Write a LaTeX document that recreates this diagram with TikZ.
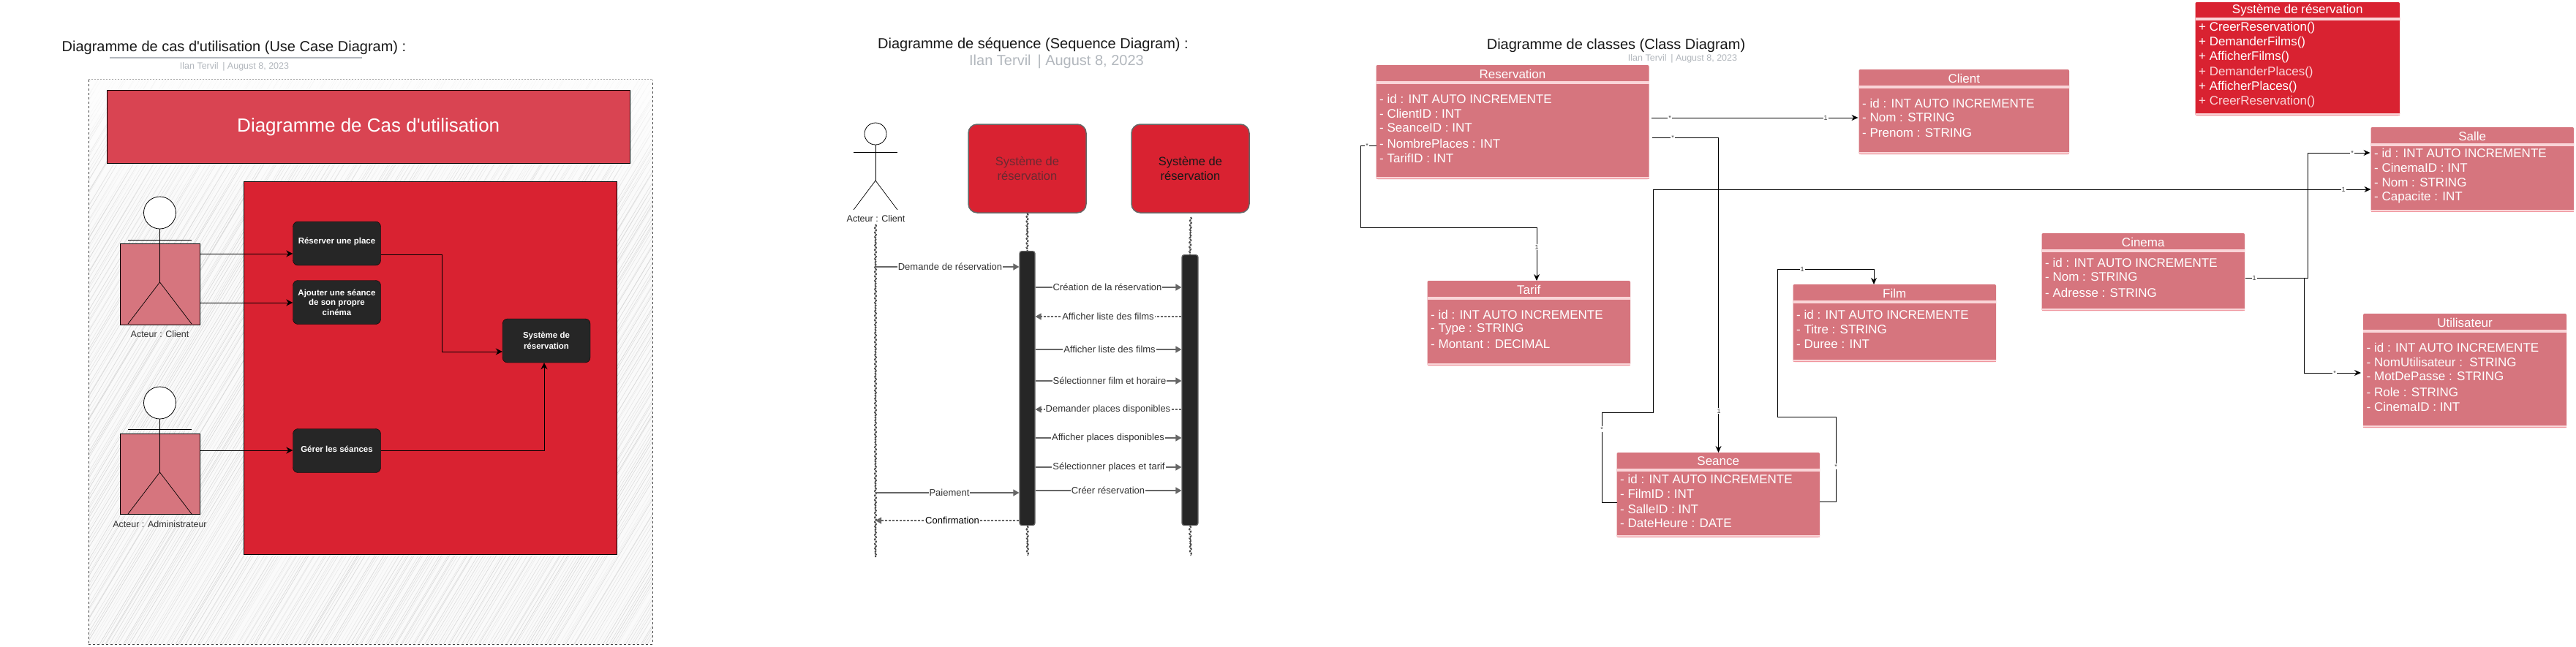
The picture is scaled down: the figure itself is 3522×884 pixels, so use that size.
\documentclass[tikz,border=0pt]{standalone}
\usepackage{fontspec}
\defaultfontfeatures[\rmfamily]{}
\setmainfont{Liberation Sans}
\usetikzlibrary{arrows.meta,decorations.pathmorphing}
\definecolor{redmain}{HTML}{D92231}
\definecolor{redhead}{HTML}{D94452}
\definecolor{pinkbox}{HTML}{D6757E}
\definecolor{bandpale}{HTML}{FAD5D8}
\definecolor{bandlow}{HTML}{F0959D}
\definecolor{darkbox}{HTML}{262626}
\definecolor{greytxt}{HTML}{B2B7BD}
\definecolor{msggrey}{HTML}{666666}
\definecolor{hatch}{HTML}{D4D4D4}
\definecolor{dimtxt}{HTML}{6B2A32}
\newcommand{\fs}[1]{\fontsize{#1pt}{#1pt}\selectfont}
\newcommand{\umlbox}[9]{%
  \pgfmathsetmacro{\bw}{#3-#2}\pgfmathsetmacro{\bh}{#7-#4}
  \node[umlshape, fill=#8, minimum width=\bw pt, minimum height=\bh pt] (#1) at (#2,#4) {};
  \fill[bandpale] (#2,#5-2) rectangle (#3,#5+2);
  \fill[bandpale] (#2,#6) rectangle (#3,#6+1.5);
  \fill[bandlow] (#2,#6+1.5) rectangle (#3,#7);
  \node[umltitle] (#1-t) at ({(#2+#3)/2},{#5-12}) {#9};
}
\newcommand{\umlrows}[3]{%
  \foreach \ry/\rt in {#3} { \node[umlrow] (#1-r\ry) at (#2,\ry) {\rt}; }
}
\newcommand{\msg}[7]{% name, from, to, y, cx, style, text
  \draw[#6] (#2 |- 0,#4) -- (#3 |- 0,#4);
  \node[msglabel] (#1) at (#5,#4) {#7};
}
\tikzset{
  umlshape/.style={anchor=north west, inner sep=0pt, outer sep=0pt, rounded corners=2pt, draw=none},
  umltitle/.style={text=white, font=\fs{17}, inner sep=0pt},
  umlrow/.style={text=white, font=\fs{17}, anchor=west, inner sep=0pt},
  conn/.style={draw=black, line width=0.9pt},
  connarrow/.style={conn, -{Stealth[length=9pt,width=8pt]}},
  card/.style={font=\fs{9}, text=black!75, fill=white, inner sep=1pt},
  ucbox/.style={fill=darkbox, draw=black, rounded corners=7pt, minimum width=120pt, minimum height=60pt, inner sep=0pt, text=white, font=\bfseries\fs{11.5}, align=center},
  ucarrow/.style={draw=black, line width=1pt, -{Stealth[length=9pt,width=9pt]}},
  actorline/.style={draw=black, line width=0.7pt},
  msgsolid/.style={draw=msggrey, line width=1.4pt, -{Triangle[length=8pt,width=9pt]}},
  msgdash/.style={draw=msggrey, line width=1.1pt, dash pattern=on 3pt off 2pt, -{Triangle[length=8pt,width=9pt]}},
  msglabel/.style={font=\fs{13}, text=black!80, fill=white, inner sep=1pt},
  lifeline/.style={draw=black!70, line width=2pt, dash pattern=on 3pt off 1pt, decorate, decoration={snake, amplitude=1pt, segment length=6pt}},
  seqhead/.style={fill=redmain, draw=msggrey, line width=1.5pt, rounded corners=12pt, minimum width=161pt, minimum height=121pt, inner sep=0pt, font=\fs{16.5}, align=center},
  seqbar/.style={fill=darkbox, draw=msggrey, line width=1.2pt, rounded corners=3pt, inner sep=0pt},
  dtitle/.style={font=\fs{20}, text=black!90, inner sep=0pt},
}
\begin{document}
\begin{tikzpicture}[x=1pt,y=-1pt]
\useasboundingbox (0,0) rectangle (3522,884);
\fill[white] (0,0) rectangle (3522,884);
% ---------- use case diagram
\node[dtitle] (ttl1) at (320,65) {Diagramme de cas d'utilisation (Use Case Diagram) :};
\node[inner sep=0pt, minimum width=345pt, minimum height=1.5pt, fill=greytxt] (ul1) at (322.5,79) {};
\node[font=\fs{12.5}, text=greytxt, inner sep=0pt] (sub1) at (320.5,91) {Ilan Tervil \,| August 8, 2023};
\begin{scope}
  \clip (121,108) rectangle (892,881);
  \fill[black!2] (121,108) rectangle (892,881);
  \pgfmathsetseed{7}
  \foreach \i in {0,...,310} {
    \pgfmathsetmacro{\hx}{-343+\i*4+rnd*4}
    \pgfmathsetmacro{\hd}{rnd*6-3}
    \pgfmathsetmacro{\hg}{0.25+rnd*0.75}
    \draw[hatch, line width=0.6pt, opacity=\hg] (\hx,881) -- (\hx+464+\hd,108);
  }
  \foreach \s in {0,...,11} {
    \pgfmathsetmacro{\op}{0.78-\s*0.065}
    \fill[white, opacity=\op] (121,108+\s*16) rectangle (892,108+\s*16+16);
  }
\end{scope}
\node[anchor=north west, inner sep=0pt, minimum width=771pt, minimum height=773pt, draw=black!75, dashed, line width=0.8pt] (frame) at (121,108) {};
\draw[white, line width=1.2pt] (frame.north west) -- (frame.north east);
\draw[black!35, line width=0.8pt, dash pattern=on 2pt off 2pt] (frame.north west) -- (frame.north east);
\node[anchor=north west, fill=redhead, draw=black, line width=1pt, minimum width=715.5pt, minimum height=100pt, inner sep=0pt, text=white, font=\fs{26}] (uchead) at (145.5,123) {Diagramme de Cas d'utilisation};
\node[anchor=north west, fill=redmain, draw=black, line width=1pt, minimum width=509.5pt, minimum height=510pt, inner sep=0pt] (ucsys) at (333,248) {};
% actor 1
\node[anchor=north west, fill=pinkbox, draw=black, line width=0.8pt, minimum width=109pt, minimum height=111pt, inner sep=0pt] (a1box) at (164,333) {};
\node[circle, fill=white, draw=black, line width=0.8pt, minimum size=44pt, inner sep=0pt] (a1head) at (218.5,291) {};
\coordinate (a1hip) at (218.5,386);
\coordinate (a1la) at (175,328); \coordinate (a1ra) at (262,328);
\coordinate (a1ll) at (175,443); \coordinate (a1rl) at (262,443);
\draw[actorline] (a1head.south) -- (a1hip);
\draw[actorline] (a1la) -- (a1ra);
\draw[actorline] (a1ll) -- (a1hip) -- (a1rl);
\node[font=\fs{12.5}, text=black!80, inner sep=0pt] (a1lab) at (218.5,457) {Acteur : Client};
% actor 2
\node[anchor=north west, fill=pinkbox, draw=black, line width=0.8pt, minimum width=109pt, minimum height=110pt, inner sep=0pt] (a2box) at (164,593) {};
\node[circle, fill=white, draw=black, line width=0.8pt, minimum size=44pt, inner sep=0pt] (a2head) at (218.5,551) {};
\coordinate (a2hip) at (218.5,646);
\coordinate (a2la) at (175,587); \coordinate (a2ra) at (262,587);
\coordinate (a2ll) at (175,703); \coordinate (a2rl) at (262,703);
\draw[actorline] (a2head.south) -- (a2hip);
\draw[actorline] (a2la) -- (a2ra);
\draw[actorline] (a2ll) -- (a2hip) -- (a2rl);
\node[font=\fs{12.5}, text=black!80, inner sep=0pt] (a2lab) at (218.5,717) {Acteur : Administrateur};
% use cases
\node[ucbox, text depth=8pt] (ucr) at (460.5,333) {Réserver une place};
\node[ucbox] (uca) at (460.5,413.5) {Ajouter une séance\\[2pt]de son propre\\[2pt]cinéma};
\node[ucbox, text depth=4pt] (ucg) at (460.5,616.5) {Gérer les séances};
\node[ucbox] (ucs) at (747,466) {Système de\\[3pt]réservation};
\draw[ucarrow] (a1box.east |- 0,347) -- (ucr.west |- 0,347);
\draw[ucarrow] (a1box.east |- 0,414) -- (uca.west |- 0,414);
\draw[ucarrow] (a2box.east |- 0,616) -- (ucg.west |- 0,616);
\draw[ucarrow] (ucr.east |- 0,348) -- (604,348) -- (604,481) -- (ucs.west |- 0,481);
\draw[ucarrow] (ucg.east |- 0,616.5) -- (744,616.5) -- (744,0 |- ucs.south);
% ---------- sequence diagram
\node[dtitle, font=\fs{20}] (ttl2) at (1412.5,61) {Diagramme de séquence (Sequence Diagram) :};
\node[font=\fs{20}, text=greytxt, inner sep=0pt] (sub2) at (1444.5,84) {Ilan Tervil \,| August 8, 2023};
\node[circle, draw=black, line width=0.8pt, minimum size=30pt, inner sep=0pt] (skhead) at (1197,183) {};
\coordinate (skhip) at (1197,247);
\coordinate (skla) at (1167,208); \coordinate (skra) at (1227,208);
\coordinate (skll) at (1167,287); \coordinate (skrl) at (1227,287);
\draw[actorline] (skhead.south) -- (skhip);
\draw[actorline] (skla) -- (skra);
\draw[actorline] (skll) -- (skhip) -- (skrl);
\node[font=\fs{12.5}, text=black!85, inner sep=0pt] (sklab) at (1197.5,299) {Acteur : Client};
\node[seqhead, text=dimtxt] (sqh1) at (1404.5,230.5) {Système de\\[3pt]réservation};
\node[seqhead, text=black!90] (sqh2) at (1627.5,230.5) {Système de\\[4pt]réservation};
\coordinate (sql0t) at (1197,307); \coordinate (sql0) at (1197,762);
\draw[lifeline] (sql0t) -- (sql0);
\node[anchor=north, seqbar, minimum width=21pt, minimum height=375pt] (sqb1) at (1404.5,343) {};
\node[anchor=north, seqbar, minimum width=22pt, minimum height=370pt] (sqb2) at (1627,348) {};
\coordinate (sql1e) at (1405,760); \coordinate (sql2t) at (1628,297); \coordinate (sql2e) at (1628,760);
\draw[lifeline] (sqh1.south) -- (sqb1.north);
\draw[lifeline] (sqb1.south) -- (sql1e);
\draw[lifeline] (sql2t) -- (sqb2.north);
\draw[lifeline] (sqb2.south) -- (sql2e);
\msg{m1}{sql0}{sqb1.west}{365}{1299}{msgsolid}{Demande de réservation}
\msg{m2}{sqb1.east}{sqb2.west}{393}{1514}{msgsolid}{Création de la réservation}
\msg{m3}{sqb2.west}{sqb1.east}{433}{1515}{msgdash}{Afficher liste des films}
\msg{m4}{sqb1.east}{sqb2.west}{478}{1517}{msgsolid}{Afficher liste des films}
\msg{m5}{sqb1.east}{sqb2.west}{521}{1517}{msgsolid}{Sélectionner film et horaire}
\msg{m6}{sqb2.west}{sqb1.east}{560}{1515}{msgdash}{Demander places disponibles}
\msg{m7}{sqb1.east}{sqb2.west}{599}{1515}{msgsolid}{Afficher places disponibles}
\msg{m8}{sqb1.east}{sqb2.west}{639}{1516}{msgsolid}{Sélectionner places et tarif}
\msg{m9}{sqb1.east}{sqb2.west}{671}{1515}{msgsolid}{Créer réservation}
\msg{m10}{sql0}{sqb1.west}{674}{1298}{msgsolid}{Paiement}
\msg{m11}{sqb1.west}{sql0}{712}{1302}{msgdash}{\textcolor{black}{Confirmation}}
% ---------- class diagram
\node[dtitle] (ttl3) at (2209.5,62) {Diagramme de classes (Class Diagram)};
\node[font=\fs{12.5}, text=greytxt, inner sep=0pt] (sub3) at (2300.5,80) {Ilan Tervil \,| August 8, 2023};
\umlbox{res}{1881.5}{2254.5}{89}{113}{242}{245}{pinkbox}{Reservation}
\umlrows{res}{1886}{135/- id : INT AUTO INCREMENTE,155/- ClientID : INT,175/- SeanceID : INT,196/- NombrePlaces : INT,216/- TarifID : INT}
\umlbox{cli}{2541.5}{2829}{95}{119}{208}{211}{pinkbox}{Client}
\umlrows{cli}{2546}{141/- id : INT AUTO INCREMENTE,161/- Nom : STRING,182/- Prenom : STRING}
\umlbox{tar}{1951.5}{2229}{384}{408}{497}{500}{pinkbox}{Tarif}
\umlrows{tar}{1956}{430/- id : INT AUTO INCREMENTE,450/- Type : STRING,471/- Montant : DECIMAL}
\umlbox{fil}{2451.5}{2729}{389}{413}{492}{495}{pinkbox}{Film}
\umlrows{fil}{2456}{430/- id : INT AUTO INCREMENTE,450/- Titre : STRING,471/- Duree : INT}
\umlbox{sea}{2210.5}{2488}{619}{643}{732}{735}{pinkbox}{Seance}
\umlrows{sea}{2215}{655/- id : INT AUTO INCREMENTE,675/- FilmID : INT,696/- SalleID : INT,716/- DateHeure : DATE}
\umlbox{sys}{3001.5}{3281}{3}{26}{155}{158}{redmain}{Système de réservation}
\umlrows{sys}{3006}{38/+ CreerReservation(),58/+ DemanderFilms(),78/+ AfficherFilms(),99/\textcolor{bandpale}{+ DemanderPlaces()},119/+ AfficherPlaces(),139/\textcolor{bandpale}{+ CreerReservation()}}
\umlbox{sal}{3241.5}{3519}{174}{198}{287}{289}{pinkbox}{Salle}
\umlrows{sal}{3246}{209/- id : INT AUTO INCREMENTE,229/- CinemaID : INT,250/- Nom : STRING,270/- Capacite : INT}
\umlbox{cin}{2791.5}{3069}{319}{343}{422}{425}{pinkbox}{Cinema}
\umlrows{cin}{2796}{359/- id : INT AUTO INCREMENTE,379/- Nom : STRING,400/- Adresse : STRING}
\umlbox{uti}{3231}{3509}{429}{453}{582}{585}{pinkbox}{Utilisateur}
\umlrows{uti}{3235.5}{475/- id : INT AUTO INCREMENTE,495/- NomUtilisateur :\ \ STRING,515/- MotDePasse : STRING,536/- Role : STRING,556/- CinemaID : INT}
% connectors
\draw[connarrow] ([xshift=3pt]res.east |- 0,161) -- ([xshift=-1pt]cli.west |- 0,161);
\node[card] (c1a) at (2283,161) {*}; \node[card] (c1b) at (2496,161) {1};
\draw[connarrow] ([xshift=4pt]res.east |- 0,188) -- (2349.5,188) -- (2349.5,0 |- sea.north);
\node[card] (c2a) at (2287,188) {*}; \node[card] (c2b) at (2350,562) {1};
\draw[connarrow] (res.west |- 0,199) -- (1860,199) -- (1860,311) -- (2101,311) -- (2101,0 |- tar.north);
\node[card] (c3a) at (1869,199) {*}; \node[card] (c3b) at (2101,338) {1};
\draw[connarrow] (sea.west |- 0,687) -- (2190,687) -- (2190,564) -- (2260,564) -- (2260,259) -- (sal.west |- 0,259);
\node[card] (c4a) at (2190,587) {*}; \node[card] (c4b) at (3204,259) {1};
\draw[connarrow] (sea.east |- 0,686) -- (2510,686) -- (2510,570) -- (2430.5,570) -- (2430.5,368) -- (2562,368) -- (2562,0 |- fil.north);
\node[card] (c5a) at (2510,638) {*}; \node[card] (c5b) at (2464,368) {1};
\draw[connarrow] ([xshift=1pt]cin.east |- 0,380) -- (3155.5,380) -- (3155.5,209) -- ([xshift=-1pt]sal.west |- 0,209);
\node[card] (c6b) at (3216,209) {*};
\draw[connarrow] ([xshift=1pt]cin.east |- 0,380) -- (3150.5,380) -- (3150.5,510) -- ([xshift=-3pt]uti.west |- 0,510);
\node[card] (c7b) at (3192,510) {*};
\node[card] (c6a) at (3082,380) {1};
\end{tikzpicture}
\end{document}
